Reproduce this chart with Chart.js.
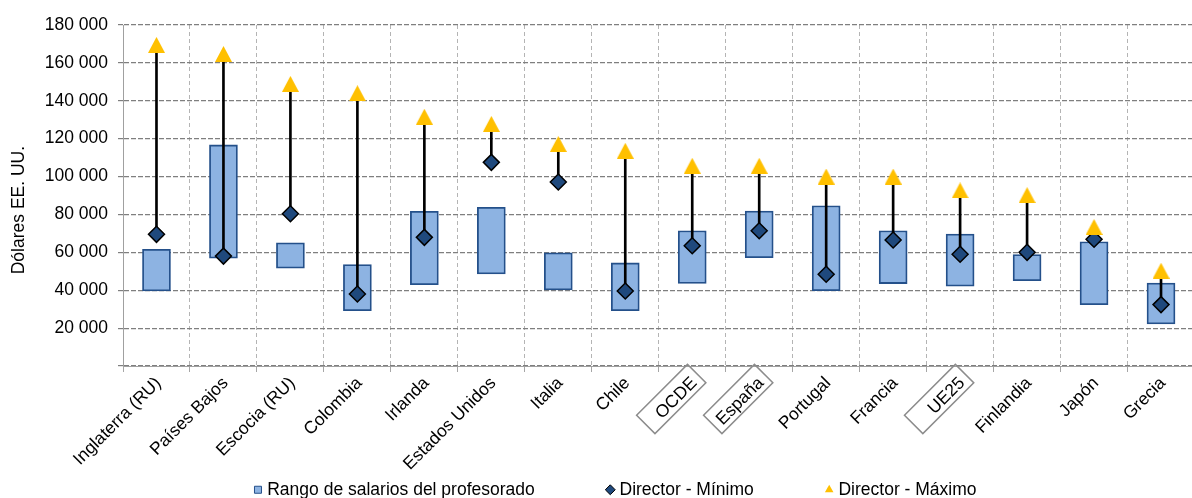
<!DOCTYPE html>
<html lang="es">
<head>
<meta charset="utf-8">
<title>Salarios del profesorado y de los directores</title>
<script src="https://cdn.jsdelivr.net/npm/chart.js@4.4.1/dist/chart.umd.min.js"></script>
<style>
  html, body { margin: 0; padding: 0; background: #fff; overflow: hidden; }
  #grafico { display: block; }
</style>
</head>
<body>
<canvas id="grafico" width="1204" height="498"></canvas>
<script>
// Datos (dólares EE. UU.)
const categorias = ['Inglaterra (RU)', 'Países Bajos', 'Escocia (RU)', 'Colombia', 'Irlanda', 'Estados Unidos',
  'Italia', 'Chile', 'OCDE', 'España', 'Portugal', 'Francia', 'UE25', 'Finlandia', 'Japón', 'Grecia'];
const profesoradoMin = [39600, 56900, 51600, 29200, 42900, 48600, 40100, 29200, 43600, 57200, 39800, 43500, 42100, 45000, 32400, 22200];
const profesoradoMax = [61600, 116700, 65000, 53500, 81700, 83800, 59700, 54400, 71400, 81800, 84600, 71400, 69700, 58800, 65600, 43800];
const directorMin = [69500, 58000, 80400, 38000, 67900, 107500, 97100, 39600, 63500, 71400, 48400, 66500, 59000, 60000, 66900, 32400];
const directorMax = [169500, 164700, 148900, 144000, 131600, 127800, 117200, 113600, 105700, 105700, 100000, 100000, 92700, 90200, 73400, 50300];
const ticksY = [0, 20000, 40000, 60000, 80000, 100000, 120000, 140000, 160000, 180000];

// etiquetas que llevan recuadro
const conRecuadro = ['OCDE', 'España', 'UE25'];

Chart.defaults.font.family = '"Liberation Sans", Arial, sans-serif';
Chart.defaults.color = '#000';

function formatearMiles(v) {
  return String(v).replace(/\B(?=(\d{3})+(?!\d))/g, ' ');
}

// triangulo tipo Excel (centrado en su caja, no en el baricentro)
function crearTriangulo(w, h, color) {
  const c = document.createElement('canvas');
  c.width = w;
  c.height = h;
  const g = c.getContext('2d');
  g.fillStyle = color;
  g.beginPath();
  g.moveTo(w / 2, 0);
  g.lineTo(w, h);
  g.lineTo(0, h);
  g.closePath();
  g.fill();
  return c;
}
const triangulo = crearTriangulo(17, 16, '#ffc000');

const estiloLeyenda = ['rect', null, 'rectRot', 'triangle'];
const PADDING_LEYENDA = 75;

const recuadros = {
  id: 'recuadros',
  afterLayout(chart) {
    // el padding de la leyenda solo se quiere en horizontal:
    // se sube el borde superior para que los items queden abajo del todo
    const lg = chart.legend;
    lg.top -= PADDING_LEYENDA - 6;
    // la leyenda original esta algo desplazada a la derecha
    lg.left += 15;
    lg.right += 15;
  },
  afterDraw(chart) {
    const x = chart.scales.x;
    const ctx = chart.ctx;
    ctx.save();
    ctx.strokeStyle = '#8c8c8c';
    ctx.lineWidth = 1.5;
    conRecuadro.forEach(nombre => {
      const i = categorias.indexOf(nombre);
      ctx.save();
      ctx.translate(x.getPixelForValue(i) - 21, x.top + 33);
      ctx.rotate(-Math.PI / 4);
      ctx.strokeRect(-36, -13, 72, 26);
      ctx.restore();
    });
    ctx.restore();
  }
};

new Chart(document.getElementById('grafico'), {
  type: 'bar',
  data: {
    labels: categorias,
    datasets: [
      {
        label: 'Rango de salarios del profesorado',
        data: categorias.map((c, i) => [profesoradoMin[i], profesoradoMax[i]]),
        backgroundColor: '#8db3e2',
        borderColor: '#24508a',
        borderWidth: 1.8,
        borderSkipped: false,
        barThickness: 28,
        grouped: false,
        order: 4
      },
      {
        label: 'linea',
        data: categorias.map((c, i) => [directorMin[i], directorMax[i]]),
        backgroundColor: '#000',
        borderWidth: 0,
        barThickness: 2,
        grouped: false,
        order: 3
      },
      {
        type: 'line',
        label: 'Director - Mínimo',
        data: directorMin,
        showLine: false,
        pointStyle: 'rectRot',
        pointRadius: 8,
        pointBackgroundColor: '#1f497d',
        pointBorderColor: '#000',
        pointBorderWidth: 1.5,
        backgroundColor: '#1f497d',
        borderColor: '#000',
        borderWidth: 1.5,
        order: 2
      },
      {
        type: 'line',
        label: 'Director - Máximo',
        data: directorMax,
        showLine: false,
        pointStyle: triangulo,
        pointRadius: 8,
        pointBorderWidth: 0,
        backgroundColor: '#ffc000',
        borderColor: '#ffc000',
        borderWidth: 0,
        order: 1
      }
    ]
  },
  options: {
    responsive: false,
    animation: false,
    events: [],
    layout: { padding: { top: 25, left: 0, right: 0, bottom: 0 } },
    plugins: {
      tooltip: { enabled: false },
      legend: {
        position: 'bottom',
        maxHeight: 23,
        labels: {
          usePointStyle: true,
          boxWidth: 1,
          boxHeight: 7,
          padding: PADDING_LEYENDA,
          color: '#000',
          font: { size: 17.5 },
          filter: item => item.datasetIndex !== 1,
          sort: (a, b) => a.datasetIndex - b.datasetIndex,
          generateLabels(chart) {
            const items = Chart.defaults.plugins.legend.labels.generateLabels(chart);
            items.forEach(it => {
              it.pointStyle = estiloLeyenda[it.datasetIndex];
              if (it.lineWidth > 0) it.lineWidth = 1;
            });
            return items;
          }
        }
      }
    },
    scales: {
      x: {
        grid: { color: '#b4b4b4', lineWidth: 1, offset: true, tickLength: 6, tickColor: '#a6a6a6' },
        border: { color: '#a0a0a0', width: 1, dash: [4, 3] },
        ticks: {
          color: '#000', font: { size: 17.5 }, minRotation: 45, maxRotation: 45,
          padding: 1, labelOffset: 2, autoSkip: false
        },
        afterFit(s) { s.height = 109; }
      },
      y: {
        min: ticksY[0],
        max: ticksY[ticksY.length - 1],
        grid: { color: '#7f7f7f', lineWidth: 1.2, tickLength: 5, tickColor: '#7f7f7f' },
        border: { color: '#a0a0a0', width: 1, dash: [5, 2] },
        afterBuildTicks(s) { s.ticks = ticksY.map(v => ({ value: v })); },
        ticks: {
          padding: 10,
          color: '#000',
          font: { size: 17.5 },
          callback: v => (v === 0 ? '' : formatearMiles(v))
        },
        title: {
          display: true,
          text: 'Dólares EE. UU.      ',
          color: '#000',
          font: { size: 17.5 },
          padding: { top: 9, bottom: 0 }
        },
        afterFit(s) { s.width = 123; }
      }
    }
  },
  plugins: [recuadros]
});
</script>
</body>
</html>
